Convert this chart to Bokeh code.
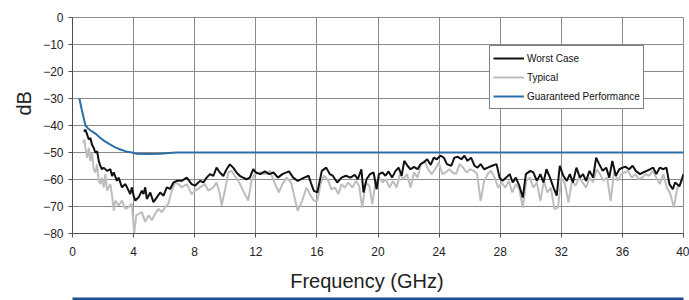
import math
from bokeh.plotting import figure
from bokeh.models import (Legend, LegendItem, Title, SingleIntervalTicker, FixedTicker, Range1d,
                          LinearAxis)
from bokeh.embed import file_html
from bokeh.resources import INLINE

# ---------------- data ----------------
freq_worst = [0.74, 0.85, 0.96, 1.07, 1.17, 1.28, 1.39, 1.50, 1.61, 1.72, 1.83, 1.93, 2.04, 2.26,
              2.48, 2.59, 2.70, 2.91, 3.02, 3.24, 3.46, 3.57, 3.78, 3.89, 4.00, 4.11, 4.33, 4.54,
              4.65, 4.76, 4.87, 5.09, 5.30, 5.52, 5.74, 5.96, 6.17, 6.39, 6.61, 6.83, 7.15, 7.48,
              7.80, 8.02, 8.35, 8.57, 8.78, 9.00, 9.22, 9.43, 9.65, 9.87, 10.09, 10.30, 10.52,
              10.74, 10.96, 11.17, 11.39, 11.61, 11.83,
              12.01, 12.30, 12.59, 12.87, 13.16, 13.45, 13.74, 14.17, 14.45, 14.74, 15.17, 15.46,
              15.60, 15.80, 16.03, 16.32, 16.61, 16.84, 17.04, 17.33, 17.61, 17.90, 18.19, 18.48,
              18.68, 18.91, 19.05, 19.25, 19.48, 19.71, 19.91, 20.06, 20.29, 20.49, 20.69, 20.92,
              21.15, 21.35, 21.55, 21.72, 21.93, 22.13, 22.36, 22.59, 22.79, 22.99, 23.22, 23.45,
              23.65, 23.85, 24.08, 24.31, 24.51, 24.80, 25.00, 25.23, 25.46, 25.66, 25.86, 26.09,
              26.32, 26.52, 26.72, 26.95, 27.18, 27.47, 27.76, 27.96, 28.16, 28.39, 28.62, 28.82,
              29.02, 29.25, 29.48, 29.68, 29.97, 30.17, 30.40, 30.63, 30.83, 31.03, 31.26, 31.49,
              31.70, 31.90, 32.13, 32.36, 32.56, 32.76, 32.99, 33.22, 33.42, 33.62, 33.85, 34.08,
              34.28, 34.48, 34.71, 34.94, 35.14, 35.34, 35.57, 35.80, 36.01, 36.21, 36.44, 36.67,
              36.87, 37.16, 37.36, 37.59, 37.82, 38.02, 38.22, 38.45, 38.68, 38.88, 39.08, 39.30,
              39.45, 39.74, 40.00]
db_worst = [-42.2, -41.6, -43.4, -45.2, -44.6, -47.1, -48.3, -50.1, -49.5, -53.2, -55.0, -56.2, -55.6, -56.8,
            -56.2, -58.7, -57.4, -60.5, -59.3, -62.9, -61.7, -62.9, -65.4, -62.9, -66.0, -67.8, -66.6, -64.1,
            -65.4, -62.9, -67.2, -64.8, -68.4, -66.6, -64.8, -66.0, -62.9, -63.5, -61.1, -60.5, -60.5, -59.3,
            -61.7, -62.3, -60.5, -61.1, -59.3, -58.0, -58.7, -55.6, -57.4, -58.7, -56.2, -54.4, -55.6,
            -57.4, -58.7, -59.3, -59.9, -59.3, -56.2,
            -57.4, -58.0, -57.0, -58.0, -57.4, -59.3, -58.0, -57.0, -59.3, -60.5, -59.3, -58.6,
            -61.1, -64.2, -64.8, -56.8, -55.6, -58.0, -58.6, -61.1, -59.3, -58.6, -59.3, -58.3,
            -59.9, -56.2, -64.8, -59.9, -58.0, -57.4, -63.6, -58.0, -57.4, -58.6, -57.0, -59.3,
            -56.8, -55.6, -58.6, -53.1, -54.9, -56.2, -55.3, -56.2, -54.3, -53.7, -52.5, -54.6,
            -51.9, -52.5, -51.2, -51.9, -54.3, -54.9, -51.9, -51.6, -52.5, -51.2, -53.1, -51.9,
            -54.9, -55.6, -54.3, -56.2, -55.6, -54.9, -54.3, -59.3, -60.5, -59.3, -58.0, -61.1,
            -59.3, -62.3, -66.7, -58.0, -56.8, -57.4, -60.5, -58.0, -61.1, -56.2, -59.3, -63.0,
            -66.0, -54.9, -58.6, -60.5, -58.0, -61.1, -55.6, -59.3, -58.0, -60.5, -56.8, -59.3,
            -51.9, -54.3, -56.8, -55.6, -59.3, -53.1, -58.6, -56.2, -55.6, -55.3, -56.2, -54.9,
            -56.8, -58.0, -57.4, -56.8, -56.2, -55.6, -58.0, -55.6, -56.2, -55.6, -61.7, -63.6,
            -61.1, -62.5, -58.0]

freq_typ = [0.70, 0.78, 0.85, 0.96, 1.07, 1.17, 1.28, 1.39, 1.50, 1.61, 1.72, 1.83, 1.93, 2.04, 2.15,
            2.26, 2.48, 2.59, 2.70, 2.80, 3.02, 3.24, 3.46, 3.67, 3.89, 4.04, 4.17, 4.33, 4.54, 4.76,
            4.98, 5.20, 5.41, 5.63, 5.85, 6.07, 6.28, 6.50, 6.72, 6.93, 7.15, 7.48, 7.80, 8.02, 8.35,
            8.67, 8.89, 9.22, 9.43, 9.65, 9.76, 9.98, 10.20, 10.41, 10.63, 10.85, 11.07, 11.28, 11.50,
            11.72, 11.93,
            12.30, 12.59, 12.93, 13.22, 13.51, 13.74, 14.02, 14.31, 14.54, 14.74, 15.03, 15.32, 15.60,
            15.80, 16.03, 16.26, 16.47, 16.75, 16.95, 17.18, 17.41, 17.61, 17.82, 18.05, 18.33, 18.56,
            18.76, 18.97, 19.20, 19.43, 19.63, 19.83, 20.06, 20.29, 20.52, 20.75, 20.98, 21.21, 21.44,
            21.67, 21.90, 22.13, 22.36, 22.59, 22.82, 23.05, 23.28, 23.51, 23.74, 23.97, 24.22, 24.43,
            24.66, 24.89, 25.11, 25.34, 25.57, 25.80, 26.03, 26.26, 26.49, 26.72, 26.95, 27.18, 27.41,
            27.64, 27.87, 28.10, 28.33, 28.56, 28.79, 29.02, 29.25, 29.48, 29.71, 29.94, 30.17, 30.40,
            30.63, 30.86, 31.09, 31.32, 31.55, 31.78, 32.01, 32.24, 32.47, 32.70, 32.93, 33.16, 33.39,
            33.62, 33.85, 34.08, 34.31, 34.54, 34.77, 35.00, 35.23, 35.46, 35.69, 35.92, 36.15, 36.38,
            36.61, 36.84, 37.07, 37.30, 37.53, 37.76, 37.99, 38.22, 38.45, 38.68, 38.91, 39.14, 39.37,
            39.60, 39.83, 40.00]
db_typ = [-46.5, -45.2, -48.3, -52.0, -48.3, -53.2, -50.1, -56.2, -57.4, -54.4, -60.5, -61.7, -59.3, -62.9, -58.0,
          -64.1, -61.7, -66.0, -71.5, -67.8, -69.6, -67.8, -70.9, -70.2, -69.0, -80.0, -73.3, -72.7, -72.1, -75.7,
          -73.3, -75.1, -72.7, -70.9, -72.1, -70.2, -69.0, -64.1, -61.1, -61.7, -62.9, -61.7, -65.4, -64.1, -62.9,
          -61.7, -64.1, -62.9, -61.1, -65.4, -69.6, -64.1, -57.4, -56.8, -58.7, -60.5, -62.9, -65.4, -67.8,
          -60.5, -58.0,
          -57.4, -58.0, -56.8, -61.1, -64.8, -61.7, -59.3, -61.1, -66.7, -71.6, -67.9, -63.0, -66.0,
          -67.9, -67.9, -61.1, -58.6, -60.5, -63.6, -63.0, -65.4, -61.7, -63.0, -61.1, -63.0, -60.5,
          -62.3, -70.4, -61.1, -62.3, -69.1, -61.1, -59.3, -61.1, -59.9, -63.0, -60.5, -63.0, -58.0,
          -59.9, -58.0, -63.0, -57.4, -59.3, -54.3, -53.1, -56.2, -58.0, -56.2, -53.7, -58.0, -57.4,
          -56.2, -57.4, -58.0, -54.3, -55.6, -57.4, -56.2, -56.8, -58.0, -67.9, -60.5, -58.0, -56.8,
          -59.3, -63.0, -61.1, -63.0, -60.5, -64.8, -61.7, -63.6, -70.4, -60.5, -59.3, -63.0, -61.1,
          -67.9, -60.5, -64.8, -63.0, -71.0, -70.4, -59.3, -61.7, -68.5, -60.5, -62.3, -59.3, -61.1,
          -63.0, -59.3, -61.1, -56.2, -58.0, -60.5, -59.3, -67.9, -56.8, -60.5, -58.0, -57.4, -56.8,
          -59.3, -58.0, -59.9, -59.3, -58.0, -58.6, -56.8, -59.3, -61.7, -58.0, -63.0, -65.4, -70.4,
          -63.0, -61.1, -59.3]

freq_guar = [0.45, 0.6, 0.85, 1.0, 1.28, 1.5, 1.83, 2.1, 2.48, 2.8, 3.13, 3.5, 3.89, 4.2, 5.0, 5.7, 6.8, 8.0, 40.0]
db_guar = [-30.0, -34.0, -40.0, -41.0, -42.2, -43.0, -44.6, -45.8, -47.1, -48.1, -48.9, -49.6, -50.0, -50.5, -50.6,
           -50.5, -50.0, -50.0, -50.0]

x_ticks_step = 4
y_ticks_step = 10

# ---------------- figure ----------------
FONT = "Liberation Sans"
GRID = "#8a8a8a"
NBSP = "\u00a0"

p = figure(width=689, height=300, output_backend="svg", toolbar_location=None,
           x_range=Range1d(0, 40), y_range=Range1d(-80, 0),
           min_border_left=72, min_border_right=6, min_border_top=17, min_border_bottom=67,
           background_fill_color="white", border_fill_color="white")

p.xaxis.ticker = SingleIntervalTicker(interval=x_ticks_step)
p.yaxis.ticker = SingleIntervalTicker(interval=y_ticks_step)
p.xgrid.ticker = SingleIntervalTicker(interval=x_ticks_step)
p.ygrid.ticker = SingleIntervalTicker(interval=y_ticks_step)
p.grid.grid_line_color = GRID
p.grid.grid_line_width = 1
p.outline_line_color = GRID
p.outline_line_width = 1

for ax in (p.xaxis[0], p.yaxis[0]):
    ax.axis_line_color = "#505050"
    ax.major_tick_line_color = "#505050"
    ax.major_tick_in = 0
    ax.major_tick_out = 4
    ax.minor_tick_line_color = None
    ax.major_label_text_font = FONT
    ax.major_label_text_font_size = "12px"
    ax.major_label_text_color = "#222222"
p.xaxis.major_label_standoff = 9
p.yaxis.major_label_standoff = 5

r_typ = p.line(freq_typ, db_typ, line_color="#bdbdbd", line_width=2)
r_worst = p.line(freq_worst, db_worst, line_color="#111111", line_width=2)
r_guar = p.line(freq_guar, db_guar, line_color="#2b6fa6", line_width=2)

legend = Legend(items=[LegendItem(label="Worst Case", renderers=[r_worst]),
                       LegendItem(label="Typical", renderers=[r_typ]),
                       LegendItem(label="Guaranteed Performance", renderers=[r_guar])],
                location=(417, 124), padding=3, spacing=1, margin=0,
                label_height=18, glyph_height=18, glyph_width=31, label_standoff=3,
                label_text_font=FONT, label_text_font_size="10px", label_text_color="#111111",
                border_line_color="#000000", border_line_width=1,
                background_fill_color="white", background_fill_alpha=1.0)
p.add_layout(legend)

# leading/trailing no-break spaces shift the centred titles to where the reference has them
p.add_layout(Title(text=NBSP * 8 + "dB", align="center", standoff=12,
                   text_font=FONT, text_font_size="20px", text_font_style="normal",
                   text_color="#222222"), "left")
p.add_layout(Title(text="Frequency (GHz)" + NBSP * 4, align="center", standoff=18,
                   text_font=FONT, text_font_size="20px", text_font_style="normal",
                   text_color="#222222"), "below")

# dark-blue band along the bottom of the picture: a bare axis line with no ticks or labels
band = LinearAxis(ticker=FixedTicker(ticks=[]), axis_line_color="#1d4f91", axis_line_width=6,
                  major_tick_line_color=None, minor_tick_line_color=None,
                  major_label_text_font_size="0px")
p.add_layout(band, "below")

open("out.html", "w").write(file_html(p, INLINE))
